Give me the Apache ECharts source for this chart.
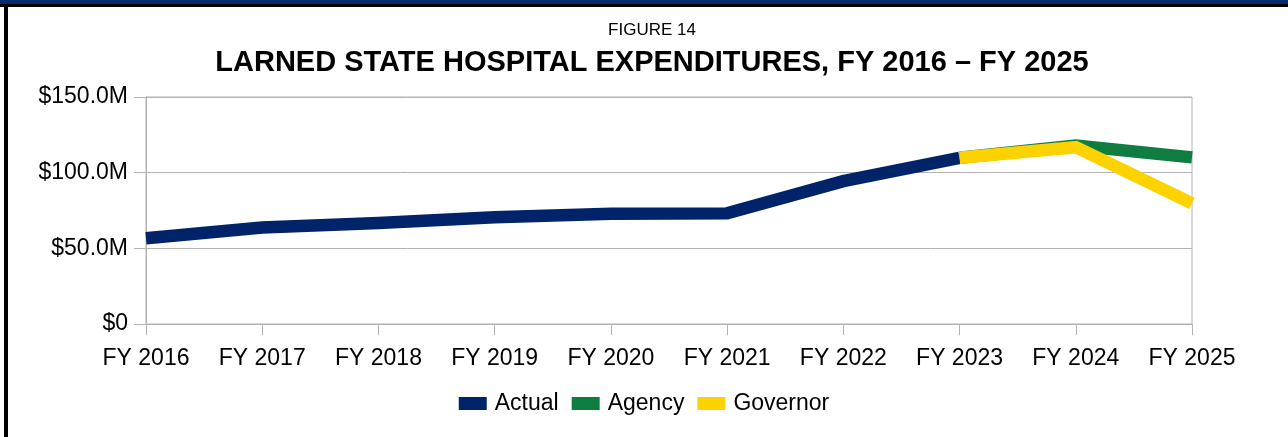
<!DOCTYPE html>
<html lang="en">

<head>
    <meta charset="UTF-8">
    <title>Larned State Hospital Expenditures</title>
    <script src="https://cdn.jsdelivr.net/npm/echarts@6/dist/echarts.min.js"></script>
    <style>
        body { margin: 0; background: #fff; }
        #wrap { position: relative; width: 1288px; height: 437px; overflow: hidden; }
        #chart { position: absolute; left: 0; top: 0; width: 1288px; height: 437px; }
        .bar { position: absolute; }
    </style>
</head>

<body>
    <div id="wrap">
        <div id="chart"></div>
        <div class="bar" style="left:0;top:0;width:1288px;height:4px;background:#062a6b;"></div>
        <div class="bar" style="left:0;top:4px;width:1288px;height:3px;background:#000;"></div>
        <div class="bar" style="left:4px;top:7px;width:4px;height:430px;background:#000;"></div>
    </div>
</body>
<script>
    // data (millions of dollars)
    const years = ['FY 2016', 'FY 2017', 'FY 2018', 'FY 2019', 'FY 2020',
        'FY 2021', 'FY 2022', 'FY 2023', 'FY 2024', 'FY 2025'];
    const actual = [56.6, 63.8, 66.7, 70.6, 72.9, 73.1, 94.4, 109.8, null, null];
    const agency = [null, null, null, null, null, null, null, 109.8, 118.0, 110.1];
    const governor = [null, null, null, null, null, null, null, 109.8, 116.8, 79.7];
    const yTicks = [0, 50, 100, 150];

    const FONT = '"Liberation Sans", Arial, sans-serif';
    const AXIS_GREY = '#b3b3b3';

    var chart = echarts.init(document.getElementById('chart'));

    function lineSeries(name, data, color) {
        return {
            name: name,
            type: 'line',
            data: data,
            symbol: 'none',
            connectNulls: false,
            lineStyle: { width: 12.5, color: color, cap: 'butt', join: 'miter' },
            itemStyle: { color: color },
            emphasis: { disabled: true },
        };
    }

    var options = {
        animation: false,
        textStyle: { fontFamily: FONT },
        title: [{
            text: 'FIGURE 14',
            left: 647,
            top: 17,
            textAlign: 'center',
            textStyle: { fontSize: 17, fontWeight: 'normal', color: '#000', fontFamily: FONT },
        }, {
            text: 'LARNED STATE HOSPITAL EXPENDITURES, FY 2016 \u2013 FY 2025',
            left: 647,
            top: 43,
            textAlign: 'center',
            textStyle: { fontSize: 29, fontWeight: 'bold', color: '#000', fontFamily: FONT },
        }],
        legend: {
            bottom: 17,
            left: 'center',
            icon: 'rect',
            itemWidth: 28,
            itemHeight: 13,
            itemGap: 13,
            textStyle: { fontSize: 23, color: '#000', fontFamily: FONT, padding: [0, 0, 0, 3] },
            data: ['Actual', 'Agency', 'Governor'],
        },
        grid: {
            left: 146,
            right: 96,
            top: 97,
            bottom: 113,
            show: true,
            borderColor: AXIS_GREY,
            borderWidth: 1,
        },
        xAxis: {
            type: 'category',
            data: years,
            boundaryGap: false,
            axisLine: { lineStyle: { color: AXIS_GREY } },
            axisTick: { show: true, length: 11, lineStyle: { color: AXIS_GREY } },
            axisLabel: { color: '#000', fontSize: 23, margin: 23, fontFamily: FONT },
            splitLine: { show: false },
        },
        yAxis: {
            type: 'value',
            min: yTicks[0],
            max: yTicks[yTicks.length - 1],
            interval: 50,
            axisLine: { show: true, lineStyle: { color: AXIS_GREY } },
            axisTick: { show: true, length: 12, lineStyle: { color: AXIS_GREY } },
            axisLabel: {
                color: '#000',
                fontSize: 23,
                margin: 18,
                fontFamily: FONT,
                formatter: function(v) {
                    return v === 0 ? '$0' : '$' + v.toFixed(1) + 'M';
                },
            },
            splitLine: { lineStyle: { color: AXIS_GREY } },
        },
        series: [
            lineSeries('Actual', actual, '#00236a'),
            lineSeries('Agency', agency, '#0f7d40'),
            lineSeries('Governor', governor, '#fcd200'),
        ],
    };

    chart.setOption(options);
</script>

</html>
